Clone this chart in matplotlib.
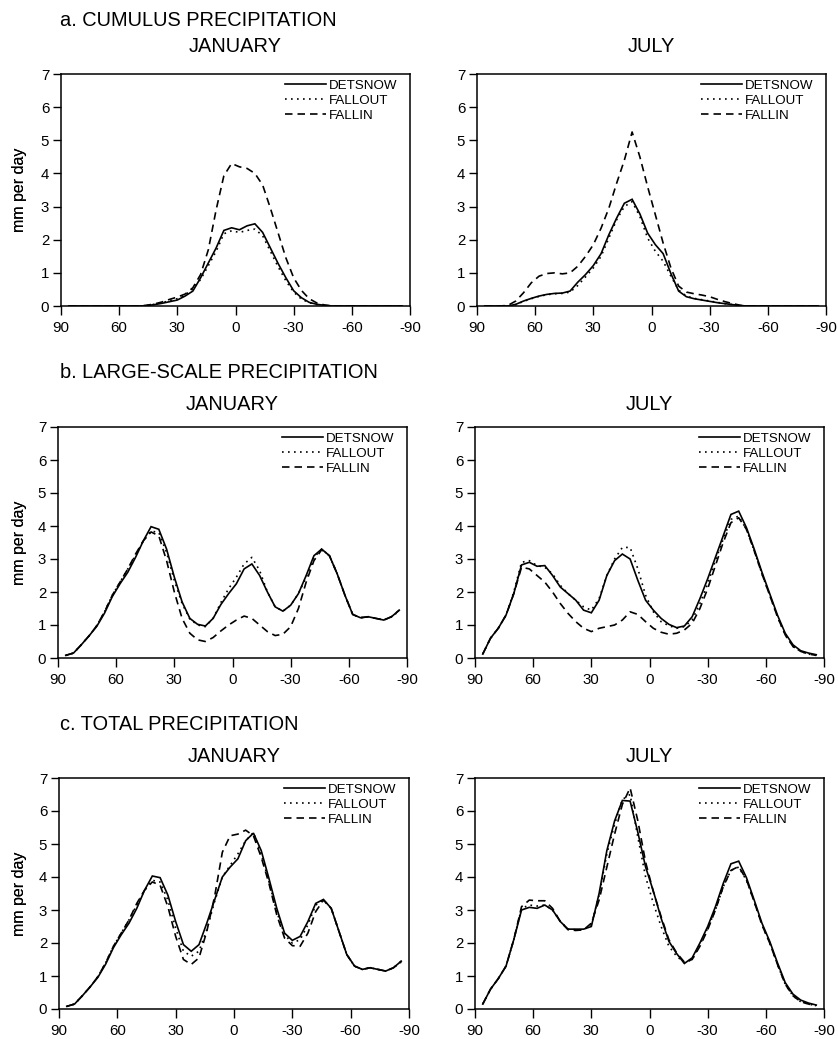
import matplotlib
matplotlib.use("Agg")
import matplotlib.pyplot as plt

plt.rcParams['font.family'] = ['Liberation Sans', 'DejaVu Sans']

# ---------------- data ----------------
lat = [86, 82, 78, 74, 70, 66, 62, 58, 54, 50, 46, 42, 38, 34, 30, 26, 22, 18, 14, 10, 6, 2,
       -2, -6, -10, -14, -18, -22, -26, -30, -34, -38, -42, -46, -50, -54, -58, -62, -66, -70,
       -74, -78, -82, -86]

series_names = ["DETSNOW", "FALLOUT", "FALLIN"]
section_titles = ["a. CUMULUS PRECIPITATION", "b. LARGE-SCALE PRECIPITATION", "c. TOTAL PRECIPITATION"]
month_titles = ["JANUARY", "JULY"]
xticks = [90, 60, 30, 0, -30, -60, -90]
yticks = [0, 1, 2, 3, 4, 5, 6, 7]

# a. cumulus, January
cu_jan_det = [0, 0, 0, 0, 0, 0, 0, 0, 0, 0, 0.01, 0.04, 0.08, 0.13, 0.18, 0.3, 0.45, 0.85, 1.3, 1.75, 2.28, 2.36,
              2.3, 2.42, 2.48, 2.22, 1.75, 1.28, 0.85, 0.46, 0.25, 0.11, 0.05, 0.02, 0, 0, 0, 0, 0, 0,
              0, 0, 0, 0]
cu_jan_out = [0, 0, 0, 0, 0, 0, 0, 0, 0, 0, 0.01, 0.05, 0.1, 0.16, 0.22, 0.33, 0.52, 0.8, 1.22, 1.65, 2.18, 2.27,
              2.22, 2.28, 2.32, 2.12, 1.65, 1.18, 0.76, 0.42, 0.21, 0.1, 0.04, 0.01, 0, 0, 0, 0, 0, 0,
              0, 0, 0, 0]
cu_jan_in = [0, 0, 0, 0, 0, 0, 0, 0, 0, 0, 0.02, 0.06, 0.12, 0.2, 0.27, 0.36, 0.55, 0.95, 1.7, 2.9, 3.93, 4.3,
             4.2, 4.15, 4.0, 3.65, 2.95, 2.2, 1.45, 0.85, 0.47, 0.22, 0.09, 0.03, 0, 0, 0, 0, 0, 0,
             0, 0, 0, 0]
# a. cumulus, July
cu_jul_det = [0, 0, 0, 0, 0.05, 0.15, 0.23, 0.3, 0.35, 0.38, 0.39, 0.45, 0.72, 0.95, 1.22, 1.58, 2.15, 2.65, 3.1, 3.22, 2.78, 2.2,
              1.85, 1.58, 0.98, 0.45, 0.28, 0.22, 0.18, 0.14, 0.1, 0.07, 0.04, 0.01, 0, 0, 0, 0, 0, 0,
              0, 0, 0, 0]
cu_jul_out = [0, 0, 0, 0, 0.04, 0.14, 0.22, 0.29, 0.34, 0.37, 0.38, 0.42, 0.62, 0.88, 1.15, 1.5, 2.05, 2.6, 3.0, 3.15, 2.7, 2.05,
              1.65, 1.35, 0.9, 0.48, 0.3, 0.23, 0.19, 0.15, 0.11, 0.07, 0.04, 0.01, 0, 0, 0, 0, 0, 0,
              0, 0, 0, 0]
cu_jul_in = [0, 0, 0, 0.02, 0.15, 0.4, 0.7, 0.9, 0.98, 1.0, 0.97, 1.0, 1.2, 1.5, 1.85, 2.35, 2.95, 3.7, 4.4, 5.25, 4.5, 3.6,
             2.75, 1.9, 1.15, 0.6, 0.42, 0.37, 0.33, 0.28, 0.2, 0.13, 0.07, 0.02, 0, 0, 0, 0, 0, 0,
             0, 0, 0, 0]
# b. large-scale, January
ls_jan_det = [0.08, 0.15, 0.4, 0.67, 0.96, 1.36, 1.86, 2.25, 2.6, 3.05, 3.55, 3.98, 3.9, 3.3, 2.45, 1.7, 1.2, 1.02, 0.97, 1.2, 1.62, 1.95,
              2.25, 2.7, 2.85, 2.5, 2.0, 1.55, 1.42, 1.6, 1.95, 2.5, 3.1, 3.3, 3.1, 2.55, 1.9, 1.32, 1.22, 1.25,
              1.2, 1.15, 1.25, 1.45]
ls_jan_out = [0.08, 0.15, 0.4, 0.67, 0.98, 1.4, 1.9, 2.3, 2.7, 3.1, 3.55, 3.85, 3.8, 3.2, 2.35, 1.65, 1.18, 1.0, 0.95, 1.2, 1.68, 2.1,
              2.45, 2.85, 3.05, 2.65, 2.0, 1.55, 1.42, 1.6, 1.95, 2.45, 3.05, 3.3, 3.1, 2.55, 1.9, 1.32, 1.22, 1.25,
              1.2, 1.15, 1.25, 1.42]
ls_jan_in = [0.08, 0.15, 0.4, 0.67, 0.98, 1.4, 1.9, 2.3, 2.7, 3.15, 3.55, 3.82, 3.7, 2.95, 2.0, 1.2, 0.75, 0.55, 0.5, 0.62, 0.82, 1.0,
             1.15, 1.27, 1.2, 1.0, 0.8, 0.68, 0.72, 0.95, 1.5, 2.3, 2.95, 3.28, 3.1, 2.55, 1.9, 1.32, 1.22, 1.25,
             1.2, 1.15, 1.25, 1.45]
# b. large-scale, July
ls_jul_det = [0.12, 0.6, 0.9, 1.3, 1.95, 2.82, 2.9, 2.78, 2.8, 2.5, 2.15, 1.95, 1.75, 1.45, 1.37, 1.75, 2.5, 2.95, 3.15, 3.0, 2.35, 1.75,
              1.45, 1.2, 1.02, 0.92, 0.97, 1.25, 1.8, 2.4, 3.05, 3.7, 4.35, 4.45, 3.95, 3.3, 2.6, 1.95, 1.3, 0.75,
              0.4, 0.22, 0.15, 0.1]
ls_jul_out = [0.12, 0.6, 0.9, 1.3, 2.0, 2.9, 2.95, 2.8, 2.75, 2.55, 2.2, 1.95, 1.75, 1.55, 1.45, 1.8, 2.5, 3.0, 3.35, 3.35, 2.7, 1.9,
              1.4, 1.1, 0.98, 0.9, 0.95, 1.15, 1.65, 2.25, 2.95, 3.6, 4.2, 4.3, 3.9, 3.25, 2.55, 1.9, 1.25, 0.7,
              0.35, 0.2, 0.12, 0.08]
ls_jul_in = [0.12, 0.6, 0.9, 1.3, 1.95, 2.75, 2.7, 2.5, 2.3, 2.0, 1.65, 1.35, 1.1, 0.9, 0.8, 0.9, 0.95, 1.0, 1.15, 1.4, 1.32, 1.1,
             0.9, 0.78, 0.72, 0.75, 0.85, 1.05, 1.5, 2.1, 2.8, 3.5, 4.1, 4.25, 3.9, 3.25, 2.55, 1.9, 1.25, 0.7,
             0.35, 0.2, 0.12, 0.08]
# c. total, January
tot_jan_det = [0.08, 0.15, 0.4, 0.67, 0.96, 1.36, 1.86, 2.25, 2.6, 3.05, 3.6, 4.03, 3.98, 3.45, 2.65, 1.95, 1.75, 1.95, 2.6, 3.3, 4.0, 4.3,
               4.55, 5.1, 5.33, 4.8, 3.95, 3.05, 2.3, 2.08, 2.2, 2.65, 3.2, 3.32, 3.05, 2.35, 1.65, 1.3, 1.2, 1.25,
               1.2, 1.15, 1.25, 1.45]
tot_jan_out = [0.08, 0.15, 0.4, 0.67, 0.98, 1.4, 1.9, 2.3, 2.7, 3.15, 3.6, 3.9, 3.85, 3.3, 2.45, 1.75, 1.6, 1.75, 2.4, 3.25, 4.0, 4.35,
               4.7, 5.1, 5.35, 4.7, 3.85, 2.95, 2.25, 2.0, 2.1, 2.55, 3.15, 3.3, 3.05, 2.35, 1.65, 1.3, 1.2, 1.25,
               1.2, 1.15, 1.25, 1.42]
tot_jan_in = [0.08, 0.15, 0.4, 0.67, 0.98, 1.4, 1.9, 2.3, 2.7, 3.2, 3.6, 3.85, 3.75, 3.1, 2.2, 1.5, 1.35, 1.55, 2.35, 3.4, 4.75, 5.25,
              5.3, 5.42, 5.25, 4.6, 3.8, 2.85, 2.15, 1.92, 1.9, 2.3, 2.95, 3.3, 3.05, 2.35, 1.65, 1.3, 1.2, 1.25,
              1.2, 1.15, 1.25, 1.45]
# c. total, July
tot_jul_det = [0.15, 0.6, 0.92, 1.3, 2.1, 3.0, 3.08, 3.05, 3.15, 3.0, 2.65, 2.42, 2.42, 2.42, 2.5, 3.5, 4.8, 5.7, 6.32, 6.3, 5.35, 4.3,
               3.57, 2.75, 2.05, 1.68, 1.38, 1.55, 2.0, 2.5, 3.1, 3.8, 4.4, 4.48, 3.98, 3.3, 2.6, 2.05, 1.4, 0.8,
               0.45, 0.27, 0.18, 0.12]
tot_jul_out = [0.15, 0.6, 0.92, 1.3, 2.1, 3.05, 3.15, 3.12, 3.15, 3.0, 2.65, 2.42, 2.4, 2.4, 2.55, 3.45, 4.7, 5.6, 6.35, 6.5, 5.2, 4.0,
               3.2, 2.5, 1.9, 1.6, 1.4, 1.5, 1.95, 2.45, 3.0, 3.7, 4.2, 4.3, 3.9, 3.25, 2.55, 2.0, 1.35, 0.75,
               0.4, 0.22, 0.15, 0.1]
tot_jul_in = [0.15, 0.6, 0.92, 1.3, 2.1, 3.1, 3.3, 3.28, 3.28, 3.05, 2.65, 2.4, 2.38, 2.4, 2.6, 3.3, 4.3, 5.3, 6.2, 6.7, 5.7, 4.45,
              3.55, 2.8, 2.1, 1.7, 1.42, 1.5, 1.9, 2.4, 3.0, 3.7, 4.2, 4.32, 3.92, 3.25, 2.55, 2.0, 1.35, 0.75,
              0.4, 0.22, 0.15, 0.1]

panels = [
    [(cu_jan_det, cu_jan_out, cu_jan_in), (cu_jul_det, cu_jul_out, cu_jul_in)],
    [(ls_jan_det, ls_jan_out, ls_jan_in), (ls_jul_det, ls_jul_out, ls_jul_in)],
    [(tot_jan_det, tot_jan_out, tot_jan_in), (tot_jul_det, tot_jul_out, tot_jul_in)],
]

# ---------------- layout (pixels) ----------------
W, H = 838, 1039
fig = plt.figure(figsize=(W / 100, H / 100), dpi=100)
fig.patch.set_facecolor('white')

# (left, right, top, bottom) in px
boxes = [
    [(61, 410, 74, 306), (477, 826, 74, 306)],
    [(58, 407, 427, 658), (475, 824, 427, 658)],
    [(59, 409, 778, 1009), (475, 824, 778, 1009)],
]
section_y = [20, 373, 725]
month_y = [46, 404, 757]

styles = [
    dict(linestyle='-'),
    dict(linestyle=(0, (1.0, 2.6))),
    dict(linestyle=(0, (4.5, 3.0))),
]

for r in range(3):
    fig.text(60 / W, 1 - section_y[r] / H, section_titles[r], fontsize=14.4,
             ha='left', va='center')
    for c in range(2):
        l, rr, t, b = boxes[r][c]
        ax = fig.add_axes([l / W, 1 - b / H, (rr - l) / W, (b - t) / H])
        for s, vals in enumerate(panels[r][c]):
            ax.plot(lat, vals, color='black', lw=1.2, label=series_names[s],
                    dash_capstyle='butt', solid_joinstyle='miter', **styles[s])
        ax.set_xlim(90, -90)
        ax.set_ylim(0, 7)
        ax.set_xticks(xticks)
        ax.set_xticklabels([str(v) for v in xticks])
        ax.set_yticks(yticks)
        ax.tick_params(axis='x', direction='out', length=6.5, width=1.0, labelsize=10.8, pad=4)
        ax.tick_params(axis='y', direction='out', length=5.5, width=1.0, labelsize=10.8, pad=3)
        for sp in ax.spines.values():
            sp.set_linewidth(1.1)
        ax.set_ylabel('mm per day', fontsize=11.5)
        ax.yaxis.set_label_coords(((27 - l) / (rr - l)), 0.5)
        ax.legend(loc='upper right', bbox_to_anchor=(1 - 7 / (rr - l), 1.0),
                  frameon=False, fontsize=9.6, handlelength=3.1, handletextpad=0.25,
                  labelspacing=0.2, borderpad=0.4, borderaxespad=0.0)
        fig.text((l + rr) / 2 / W, 1 - month_y[r] / H, month_titles[c], fontsize=14.4,
                 ha='center', va='center')

fig.savefig('out.png', dpi=100, facecolor='white')
